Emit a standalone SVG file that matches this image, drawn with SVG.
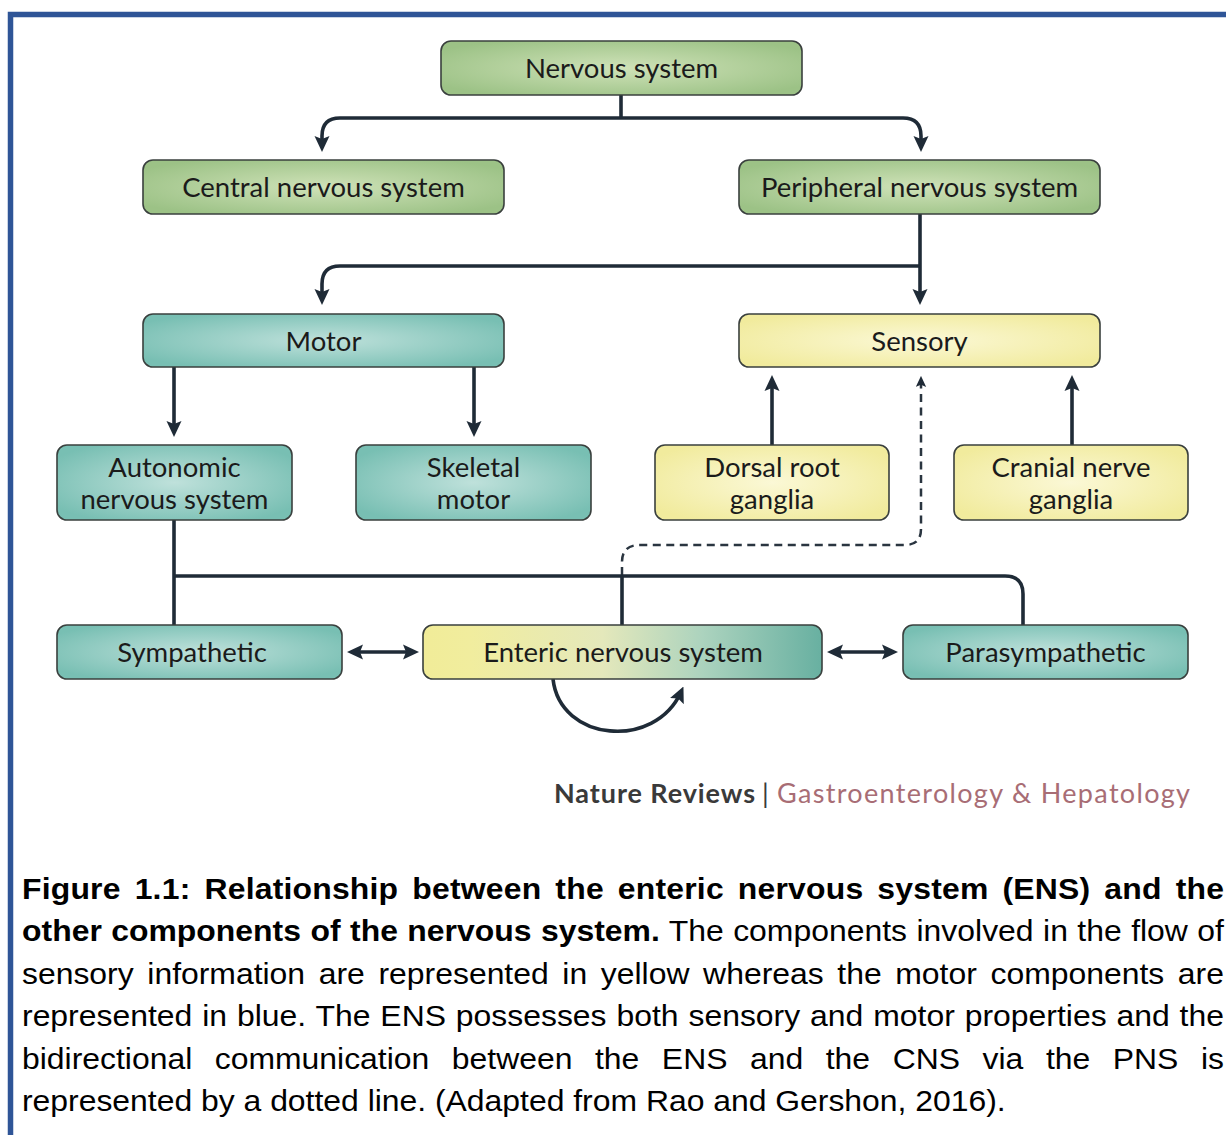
<svg xmlns="http://www.w3.org/2000/svg" width="1226" height="1135" viewBox="0 0 1226 1135">
<defs>
<radialGradient id="gGreen" cx="50%" cy="50%" r="60%">
<stop offset="0" stop-color="#cfe2b8"/><stop offset="1" stop-color="#9cc286"/>
</radialGradient>
<radialGradient id="gTeal" cx="50%" cy="50%" r="60%">
<stop offset="0" stop-color="#bfe1db"/><stop offset="1" stop-color="#78bfb3"/>
</radialGradient>
<radialGradient id="gYellow" cx="50%" cy="50%" r="60%">
<stop offset="0" stop-color="#fbf8d6"/><stop offset="1" stop-color="#f1eb9d"/>
</radialGradient>
<linearGradient id="gEns" x1="0" y1="0" x2="1" y2="0">
<stop offset="0" stop-color="#f1ec98"/><stop offset="0.12" stop-color="#f1ed9e"/>
<stop offset="0.45" stop-color="#e4e8bb"/><stop offset="0.7" stop-color="#acd3be"/>
<stop offset="1" stop-color="#68b0a1"/>
</linearGradient>
<marker id="ah" viewBox="0 0 16 16" refX="10" refY="8" markerWidth="16" markerHeight="16" markerUnits="userSpaceOnUse" orient="auto-start-reverse">
<path d="M0,0.5 L16,8 L0,15.5 L3,8 z" fill="#1f2b37"/>
</marker>
<marker id="ahs" viewBox="0 0 16 16" refX="10" refY="8" markerWidth="11" markerHeight="11" markerUnits="userSpaceOnUse" orient="auto">
<path d="M0,0.5 L16,8 L0,15.5 L3,8 z" fill="#1f2b37"/>
</marker>
</defs>
<style>
.box{stroke:#3a403e;stroke-width:1.6}
.lbl{font-family:Lato,"Open Sans","DejaVu Sans",sans-serif;font-size:27.5px;fill:#1b1b1b;text-anchor:middle}
.ln{fill:none;stroke:#1f2b37;stroke-width:3.6}
.dash{fill:none;stroke:#2a3540;stroke-width:2.5;stroke-dasharray:8 5.5}
.cap{font-family:"Liberation Sans",Arial,sans-serif;font-size:29px;fill:#000}
</style>
<rect width="1226" height="1135" fill="#ffffff"/>
<path d="M10.5,1135 V14.5 H1226" fill="none" stroke="#2f5597" stroke-width="5.5"/>

<g id="connectors">
<path class="ln" d="M621,95 V118"/>
<path class="ln" d="M322,146 V136 Q322,118 340,118 H903 Q921,118 921,136 V146" marker-start="url(#ah)" marker-end="url(#ah)"/>
<path class="ln" d="M920,214 V299" marker-end="url(#ah)"/>
<path class="ln" d="M920,266 H340 Q322,266 322,284 V299" marker-end="url(#ah)"/>
<path class="ln" d="M174,367 V431" marker-end="url(#ah)"/>
<path class="ln" d="M474,367 V431" marker-end="url(#ah)"/>
<path class="ln" d="M772,445 V381" marker-end="url(#ah)"/>
<path class="ln" d="M1072,445 V381" marker-end="url(#ah)"/>
<path class="dash" d="M622,575 V562 Q622,545 640,545 H905 Q921,545 921,529 V380" marker-end="url(#ahs)"/>
<path class="ln" d="M174,520 V625"/>
<path class="ln" d="M174,576 H1005 Q1023,576 1023,594 V625"/>
<path class="ln" d="M622,576 V625"/>
<path class="ln" d="M353,652 H413" marker-start="url(#ah)" marker-end="url(#ah)"/>
<path class="ln" d="M833,652 H892" marker-start="url(#ah)" marker-end="url(#ah)"/>
<path class="ln" d="M553,679 C560,742 655,750 681,692" marker-end="url(#ah)"/>
</g>

<g id="node-nervous-system">
<rect class="box" x="441" y="41" width="361" height="54" rx="10" fill="url(#gGreen)"/>
<text class="lbl" x="621.5" y="77.5">Nervous system</text>
</g>
<g id="node-cns">
<rect class="box" x="143" y="160" width="361" height="54" rx="10" fill="url(#gGreen)"/>
<text class="lbl" x="323.5" y="196.5">Central nervous system</text>
</g>
<g id="node-pns">
<rect class="box" x="739" y="160" width="361" height="54" rx="10" fill="url(#gGreen)"/>
<text class="lbl" x="919.5" y="196.5">Peripheral nervous system</text>
</g>
<g id="node-motor">
<rect class="box" x="143" y="314" width="361" height="53" rx="10" fill="url(#gTeal)"/>
<text class="lbl" x="323.5" y="350.5">Motor</text>
</g>
<g id="node-sensory">
<rect class="box" x="739" y="314" width="361" height="53" rx="10" fill="url(#gYellow)"/>
<text class="lbl" x="919.5" y="350.5">Sensory</text>
</g>
<g id="node-autonomic">
<rect class="box" x="57" y="445" width="235" height="75" rx="10" fill="url(#gTeal)"/>
<text class="lbl" x="174.5" y="476.5">Autonomic</text>
<text class="lbl" x="174.5" y="508.5">nervous system</text>
</g>
<g id="node-skeletal">
<rect class="box" x="356" y="445" width="235" height="75" rx="10" fill="url(#gTeal)"/>
<text class="lbl" x="473.5" y="476.5">Skeletal</text>
<text class="lbl" x="473.5" y="508.5">motor</text>
</g>
<g id="node-dorsal">
<rect class="box" x="655" y="445" width="234" height="75" rx="10" fill="url(#gYellow)"/>
<text class="lbl" x="772" y="476.5">Dorsal root</text>
<text class="lbl" x="772" y="508.5">ganglia</text>
</g>
<g id="node-cranial">
<rect class="box" x="954" y="445" width="234" height="75" rx="10" fill="url(#gYellow)"/>
<text class="lbl" x="1071" y="476.5">Cranial nerve</text>
<text class="lbl" x="1071" y="508.5">ganglia</text>
</g>
<g id="node-sympathetic">
<rect class="box" x="57" y="625" width="285" height="54" rx="10" fill="url(#gTeal)"/>
<text class="lbl" x="192" y="661.5">Sympathetic</text>
</g>
<g id="node-ens">
<rect class="box" x="423" y="625" width="399" height="54" rx="10" fill="url(#gEns)"/>
<text class="lbl" x="623" y="661.5">Enteric nervous system</text>
</g>
<g id="node-parasympathetic">
<rect class="box" x="903" y="625" width="285" height="54" rx="10" fill="url(#gTeal)"/>
<text class="lbl" x="1045.5" y="661.5">Parasympathetic</text>
</g>

<g id="credit">
<text x="554" y="803" font-family="Lato,'Open Sans',sans-serif" font-size="27" font-weight="bold" fill="#3a3a3a" textLength="201" lengthAdjust="spacing">Nature Reviews</text>
<text x="762" y="803" font-family="Lato,'Open Sans',sans-serif" font-size="27" fill="#3a3a3a">|</text>
<text x="777" y="803" font-family="Lato,'Open Sans',sans-serif" font-size="27" fill="#a86d75" textLength="413" lengthAdjust="spacing">Gastroenterology &amp; Hepatology</text>
</g>

<g id="caption" transform="translate(22 0) scale(1.1 1)">
<text class="cap" x="0" y="899" font-weight="bold" word-spacing="4.5" textLength="1092.7" lengthAdjust="spacing">Figure 1.1: Relationship between the enteric nervous system (ENS) and the</text>
<text class="cap" x="0" y="941.4" word-spacing="0.5" textLength="1092.7" lengthAdjust="spacing"><tspan font-weight="bold">other components of the nervous system.</tspan> The components involved in the flow of</text>
<text class="cap" x="0" y="983.8" word-spacing="4.35" textLength="1092.7" lengthAdjust="spacing">sensory information are represented in yellow whereas the motor components are</text>
<text class="cap" x="0" y="1026.2" word-spacing="0.93" textLength="1092.7" lengthAdjust="spacing">represented in blue. The ENS possesses both sensory and motor properties and the</text>
<text class="cap" x="0" y="1068.6" word-spacing="12.45" textLength="1092.7" lengthAdjust="spacing">bidirectional communication between the ENS and the CNS via the PNS is</text>
<text class="cap" x="0" y="1111">represented by a dotted line. (Adapted from Rao and Gershon, 2016).</text>
</g>
</svg>
